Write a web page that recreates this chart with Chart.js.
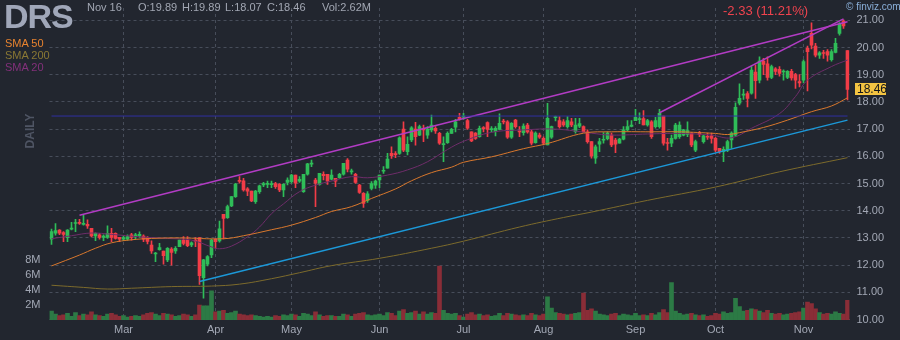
<!DOCTYPE html>
<html lang="en">

<head>
    <meta charset="UTF-8">
    <title>DRS daily</title>
    <script src="https://cdn.jsdelivr.net/npm/chart.js@4.4.0/dist/chart.umd.min.js"></script>
    <style>
        body {
            margin: 0;
            background: #22262f;
        }

        #wrap {
            position: relative;
            width: 900px;
            height: 340px;
            font-family: Arial, "Liberation Sans", sans-serif;
        }

        #wrap span {
            position: absolute;
            white-space: nowrap;
        }

        .info {
            font-size: 11px;
            line-height: 11px;
            top: 2px;
            color: #a2a7b3;
        }

        .sma {
            font-size: 11px;
            line-height: 11px;
            left: 5px;
        }
    </style>
</head>

<body>
    <div id="wrap">
        <canvas id="chart" width="900" height="340"></canvas>
        <span id="ticker" style="left:4px; top:-1px; font-size:34px; line-height:34px; font-weight:bold; letter-spacing:-1px; color:#a0a7b9">DRS</span>
        <span class="info" id="day" style="left:87px"></span>
        <span class="info" id="o" style="left:138px"></span>
        <span class="info" id="h" style="left:182px"></span>
        <span class="info" id="l" style="left:225px"></span>
        <span class="info" id="c" style="left:267px"></span>
        <span class="info" id="vol" style="left:322px"></span>
        <span id="change" style="left:723px; top:4px; font-size:13px; line-height:13px; color:#f0434e"></span>
        <span style="left:846px; top:2px; font-size:10px; line-height:10px; color:#8aafd8">&copy; finviz.com</span>
        <span class="sma" style="top:38px; color:#e8832f">SMA 50</span>
        <span class="sma" style="top:50px; color:#8a7834">SMA 200</span>
        <span class="sma" style="top:62px; color:#82307a">SMA 20</span>
        <span style="left:30px; top:131px; transform:translate(-50%, -50%) rotate(-90deg); font-size:12px; font-weight:bold; color:#4f5564">DAILY</span>
    </div>
    <script>
        // trading sessions
        const firstDay = '2023-02-02';
        const lastDay = '2023-11-16';
        const holidays = ['2023-02-20', '2023-04-07', '2023-05-29', '2023-06-19', '2023-07-04', '2023-09-04'];
        const monthNames = ['Jan', 'Feb', 'Mar', 'Apr', 'May', 'Jun', 'Jul', 'Aug', 'Sep', 'Oct', 'Nov', 'Dec'];

        const open = [
            12.95, 13.17, 13.29, 13.20, 13.01, 13.32, 13.53, 13.57, 13.50, 13.50,
            13.35, 13.07, 13.11, 13.02, 13.02, 13.17, 13.17, 13.02, 12.95, 12.95,
            13.11, 13.05, 13.07, 13.07, 13.02, 12.74, 12.41, 12.57, 12.52, 12.19,
            12.59, 12.52, 12.68, 12.92, 12.92, 12.74, 12.89, 13.01, 11.54, 12.03,
            12.37, 12.96, 12.89, 13.87, 13.74, 14.18, 14.52, 15.12, 15.10, 14.80,
            14.72, 14.33, 14.70, 14.95, 14.97, 14.96, 15.00, 14.97, 14.76, 15.04,
            15.07, 15.31, 15.09, 14.70, 15.34, 15.71, 15.13, 14.97, 15.34, 15.34,
            15.16, 15.19, 15.21, 15.34, 15.86, 15.43, 15.34, 14.94, 14.64, 14.38,
            14.82, 14.94, 15.13, 15.45, 15.56, 16.11, 16.08, 16.11, 17.00, 16.17,
            16.60, 17.00, 16.78, 17.03, 16.78, 16.97, 17.03, 16.84, 16.43, 16.50,
            16.84, 17.07, 17.43, 17.44, 17.31, 16.90, 16.85, 16.72, 17.04, 17.24,
            16.98, 16.91, 16.99, 17.28, 17.27, 16.70, 17.33, 16.92, 16.87, 17.15,
            16.90, 16.50, 16.78, 16.66, 16.42, 16.70, 17.42, 17.31, 17.27, 17.09,
            17.27, 16.91, 17.11, 17.09, 16.90, 16.54, 15.93, 16.45, 16.59, 16.65,
            16.78, 16.60, 16.48, 16.63, 16.97, 17.10, 17.31, 17.35, 17.39, 17.15,
            17.27, 17.09, 17.09, 17.48, 16.49, 16.48, 16.66, 16.72, 16.78, 16.80,
            16.85, 16.23, 16.87, 16.54, 16.73, 16.75, 16.66, 16.29, 16.17, 16.23,
            16.60, 16.78, 17.95, 18.25, 18.31, 18.32, 19.10, 18.80, 19.50, 19.40,
            18.90, 19.22, 19.20, 19.10, 18.90, 19.12, 19.00, 18.75, 18.80, 19.97,
            20.52, 20.05, 19.72, 19.80, 19.85, 19.55, 19.82, 20.52, 20.97, 19.89
        ];
        const high = [
            13.32, 13.53, 13.31, 13.23, 13.31, 13.57, 13.68, 13.68, 13.84, 13.66,
            13.35, 13.19, 13.17, 13.11, 13.44, 13.35, 13.19, 13.02, 13.07, 13.11,
            13.17, 13.17, 13.22, 13.11, 13.05, 12.89, 12.47, 12.80, 12.52, 12.64,
            12.64, 12.68, 12.92, 13.05, 13.05, 12.86, 13.01, 13.01, 12.21, 12.35,
            12.96, 12.96, 13.62, 13.87, 14.21, 14.52, 15.01, 15.25, 15.19, 14.85,
            14.72, 14.75, 14.94, 15.04, 15.09, 15.09, 15.04, 15.00, 15.00, 15.21,
            15.34, 15.31, 15.25, 15.34, 15.74, 15.86, 15.19, 15.37, 15.43, 15.34,
            15.50, 15.19, 15.37, 15.74, 15.92, 15.53, 15.37, 14.97, 14.67, 14.70,
            15.07, 15.13, 15.31, 15.62, 16.11, 16.35, 16.17, 16.72, 17.27, 16.72,
            17.09, 17.25, 17.15, 17.15, 17.09, 17.52, 17.09, 16.88, 16.72, 16.90,
            17.03, 17.36, 17.58, 17.58, 17.36, 16.90, 16.87, 17.11, 17.09, 17.27,
            17.09, 17.09, 17.56, 17.36, 17.31, 17.24, 17.36, 17.09, 17.19, 17.21,
            16.97, 16.90, 16.85, 16.72, 17.95, 17.11, 17.48, 17.46, 17.35, 17.46,
            17.40, 17.40, 17.40, 17.12, 16.97, 16.54, 16.41, 16.66, 16.87, 16.90,
            16.85, 16.66, 16.66, 17.09, 17.31, 17.31, 17.73, 17.60, 17.68, 17.36,
            17.31, 17.43, 17.73, 17.48, 16.66, 16.78, 17.21, 17.27, 16.99, 17.27,
            16.87, 16.60, 16.92, 16.78, 16.85, 16.85, 16.70, 16.29, 16.35, 16.60,
            16.90, 17.97, 18.66, 18.46, 18.38, 19.30, 19.35, 19.66, 19.60, 19.66,
            19.35, 19.26, 19.30, 19.18, 19.15, 19.20, 19.05, 19.00, 19.55, 20.05,
            20.91, 20.15, 19.85, 19.90, 19.92, 19.92, 20.34, 20.92, 21.02, 19.89
        ];
        const low = [
            12.76, 13.10, 13.12, 12.86, 12.86, 13.29, 13.23, 13.50, 13.47, 13.35,
            13.04, 12.90, 12.95, 12.90, 12.98, 12.86, 12.95, 12.86, 12.90, 12.92,
            12.92, 12.95, 13.02, 12.86, 12.78, 12.43, 12.13, 12.55, 12.03, 12.13,
            12.00, 12.43, 12.68, 12.74, 12.68, 12.68, 12.68, 11.29, 10.78, 11.97,
            12.27, 12.62, 12.84, 12.96, 13.72, 14.15, 14.49, 15.01, 14.72, 14.55,
            14.33, 14.27, 14.64, 14.88, 14.85, 14.85, 14.82, 14.70, 14.52, 14.95,
            15.01, 14.85, 15.04, 14.67, 15.31, 15.62, 14.15, 14.94, 15.13, 14.97,
            15.13, 14.88, 15.19, 15.31, 15.43, 15.34, 15.00, 14.64, 14.12, 14.30,
            14.76, 14.82, 14.85, 15.37, 15.56, 15.92, 15.95, 16.07, 16.17, 16.05,
            16.54, 16.41, 16.76, 16.54, 16.66, 16.90, 16.84, 16.44, 15.80, 16.47,
            16.84, 16.90, 17.33, 17.36, 16.99, 16.54, 16.62, 16.70, 16.90, 16.72,
            16.90, 16.75, 16.97, 17.19, 16.66, 16.66, 17.03, 16.72, 16.78, 16.85,
            16.42, 16.48, 16.66, 16.42, 16.42, 16.66, 17.30, 17.03, 17.10, 17.03,
            17.09, 16.85, 17.05, 16.88, 16.48, 15.93, 15.74, 16.17, 16.48, 16.60,
            16.35, 16.13, 16.48, 16.60, 16.94, 17.08, 17.31, 17.20, 17.15, 17.11,
            16.66, 17.03, 17.03, 16.41, 16.23, 16.35, 16.63, 16.66, 16.75, 16.72,
            16.35, 16.17, 16.72, 16.48, 16.62, 16.48, 16.17, 16.11, 15.80, 16.17,
            16.29, 16.72, 17.89, 18.09, 17.82, 18.28, 18.13, 18.70, 19.00, 18.80,
            18.85, 19.00, 18.95, 18.80, 18.85, 18.80, 18.50, 18.55, 18.70, 18.40,
            19.95, 19.65, 19.60, 19.60, 19.50, 19.50, 19.80, 20.45, 20.70, 18.07
        ];
        const close = [
            13.23, 13.27, 13.17, 13.13, 13.29, 13.34, 13.54, 13.53, 13.53, 13.44,
            13.07, 13.17, 13.02, 13.07, 13.17, 13.02, 12.98, 12.95, 13.01, 13.05,
            13.02, 13.11, 13.13, 12.95, 12.87, 12.52, 12.43, 12.64, 12.35, 12.62,
            12.47, 12.62, 12.92, 12.80, 12.71, 12.82, 12.88, 11.61, 12.19, 12.31,
            12.92, 12.86, 13.33, 13.72, 14.15, 14.52, 14.98, 15.08, 14.76, 14.72,
            14.36, 14.72, 14.91, 15.00, 14.99, 14.98, 14.88, 14.76, 14.97, 15.13,
            15.31, 15.01, 15.15, 15.34, 15.72, 15.72, 15.01, 15.37, 15.29, 15.09,
            15.31, 15.09, 15.34, 15.74, 15.53, 15.45, 15.04, 14.67, 14.27, 14.62,
            15.00, 15.09, 15.31, 15.46, 15.90, 16.02, 16.06, 16.68, 16.23, 16.44,
            17.05, 16.72, 17.09, 16.97, 17.00, 17.15, 16.93, 16.48, 16.47, 16.84,
            16.99, 17.27, 17.36, 17.46, 17.03, 16.57, 16.66, 17.03, 17.02, 16.99,
            17.00, 17.03, 17.21, 17.26, 16.70, 17.21, 17.09, 16.90, 17.11, 16.90,
            16.48, 16.85, 16.70, 16.48, 17.40, 17.09, 17.44, 17.09, 17.15, 17.31,
            17.15, 17.15, 17.20, 16.90, 16.54, 16.01, 16.35, 16.54, 16.61, 16.85,
            16.42, 16.45, 16.63, 16.97, 17.09, 17.15, 17.43, 17.37, 17.15, 17.31,
            16.72, 17.31, 17.58, 16.48, 16.47, 16.66, 17.15, 17.15, 16.97, 16.95,
            16.42, 16.54, 16.80, 16.75, 16.70, 16.66, 16.23, 16.17, 16.26, 16.54,
            16.85, 17.80, 18.13, 18.27, 18.13, 19.17, 18.78, 19.50, 19.38, 18.90,
            19.30, 19.12, 19.05, 19.12, 19.12, 18.88, 18.80, 18.70, 19.48, 19.85,
            20.09, 19.72, 19.80, 19.78, 19.72, 19.85, 20.15, 20.86, 20.79, 18.46
        ];
        // millions of shares
        const volume = [
            1.2, 0.8, 0.6, 0.7, 0.9, 0.5, 1.0, 0.6, 0.8, 0.7,
            1.1, 0.7, 0.6, 0.5, 0.8, 0.9, 0.7, 0.5, 0.6, 0.4,
            0.5, 0.6, 0.5, 0.7, 0.9, 1.0, 0.8, 0.6, 0.9, 0.8,
            0.7, 0.5, 0.6, 0.8, 0.7, 0.5, 0.7, 2.0, 1.9, 1.9,
            3.9, 1.1, 1.2, 1.3, 0.9, 1.0, 1.2, 0.8, 0.7, 0.6,
            0.7, 0.6, 0.5, 0.4, 0.5, 0.4, 0.6, 0.5, 0.7, 0.6,
            0.8, 0.7, 0.5, 0.9, 0.8, 0.6, 1.1, 0.7, 0.5, 0.6,
            0.6, 0.5, 0.5, 0.8, 0.7, 0.5, 0.8, 0.9, 1.0, 0.7,
            0.6, 0.7, 0.8, 0.6, 1.0, 0.9, 0.6, 1.2, 1.4, 0.9,
            1.0, 1.2, 0.8, 1.1, 0.8, 1.0, 0.9, 7.2, 1.3, 0.9,
            0.8, 0.9, 0.6, 0.4, 0.8, 1.0, 0.7, 0.8, 0.6, 0.7,
            0.5, 0.6, 0.9, 0.6, 0.9, 0.8, 0.7, 0.6, 0.7, 0.6,
            0.9, 0.7, 0.6, 0.8, 3.1, 1.6, 1.0, 0.9, 0.8, 0.7,
            0.8, 0.9, 1.0, 3.6, 1.3, 1.5, 1.2, 0.8, 0.7, 0.6,
            0.8, 0.9, 0.6, 0.8, 0.7, 0.6, 0.9, 0.6, 0.7, 0.6,
            0.9, 0.7, 1.0, 1.4, 1.0, 5.0, 1.2, 0.9, 0.7, 0.8,
            0.9, 0.7, 0.6, 0.7, 0.5, 0.6, 0.9, 0.8, 1.1, 0.9,
            1.0, 2.9, 1.8, 1.2, 1.3, 1.5, 1.4, 1.2, 1.0, 1.3,
            0.9, 0.8, 0.9, 0.7, 0.8, 0.9, 1.0, 1.1, 1.6, 2.4,
            2.2, 1.5, 1.0, 0.8, 0.9, 0.8, 1.1, 0.9, 0.8, 2.62
        ];

        // moving averages, [session index, price]
        const sma20 = [
            [0, 12.97], [5, 13.08], [10, 13.18], [15, 13.13], [22, 13.04], [29, 12.98], [35, 12.92],
            [40, 12.67], [42, 12.60], [45, 12.70], [49, 13.04], [52, 13.40], [55, 13.89], [58, 14.25],
            [62, 14.70], [66, 14.94], [70, 15.09], [75, 15.25], [79, 15.21], [84, 15.31], [89, 15.50],
            [94, 15.80], [99, 16.25], [103, 16.55], [110, 16.88], [118, 16.97], [126, 17.00], [135, 16.85],
            [140, 16.78], [149, 16.82], [157, 16.84], [165, 16.78], [170, 16.68], [175, 17.03], [182, 17.57],
            [186, 18.20], [189, 18.80], [195, 19.30], [199, 19.54]
        ];
        const sma50 = [
            [0, 11.97], [7, 12.37], [11, 12.62], [15, 12.82], [20, 12.93], [25, 12.98], [32, 13.00],
            [43, 12.97], [48, 13.08], [55, 13.30], [60, 13.47], [66, 13.75], [70, 13.97], [75, 14.15],
            [80, 14.45], [86, 14.80], [90, 15.10], [95, 15.40], [100, 15.60], [103, 15.78], [110, 15.98],
            [118, 16.28], [124, 16.47], [133, 16.85], [140, 16.90], [150, 16.90], [157, 16.90], [166, 16.84],
            [169, 16.80], [172, 16.87], [178, 17.06], [184, 17.33], [190, 17.64], [195, 17.85], [199, 18.15]
        ];
        const sma200 = [
            [0, 11.26], [8, 11.18], [14, 11.12], [20, 11.15], [30, 11.21], [40, 11.23], [47, 11.30],
            [55, 11.50], [62, 11.72], [70, 11.98], [82, 12.25], [95, 12.62], [103, 12.88], [117, 13.40],
            [128, 13.75], [135, 13.95], [149, 14.38], [166, 14.87], [182, 15.43], [199, 15.95]
        ];

        // drawn trendlines
        const channelTop = [[7, 13.83], [199, 20.95]];
        const steepTop = [[152, 17.60], [198, 21.05]];
        const supportLine = [[37, 11.40], [199, 17.33]];
        const resistance = [[0, 17.48], [199, 17.48]];

        const priceTicks = [10, 11, 12, 13, 14, 15, 16, 17, 18, 19, 20, 21];
        const volumeTicks = [2, 4, 6, 8];

        const days = [];
        for (let t = Date.parse(firstDay); t <= Date.parse(lastDay); t += 864e5) {
            const d = new Date(t);
            const iso = d.toISOString().slice(0, 10);
            const wd = d.getUTCDay();
            if (wd === 0 || wd === 6 || holidays.includes(iso)) continue;
            days.push(iso);
        }
        const monthOf = i => +days[i].slice(5, 7) - 1;
        const monthStarts = days.map((d, i) => i).filter(i => i > 0 && monthOf(i) !== monthOf(i - 1));

        const up = close.map((c, i) => c >= open[i]);
        const candleColor = up.map(u => u ? '#2fbd58' : '#f23c47');
        const volumeColor = up.map(u => u ? '#2c7a45' : '#8a2d37');
        const pts = arr => arr.map(([i, v]) => ({ x: days[i], y: v }));

        // header
        const last = close.length - 1;
        const lastDate = days[last];
        document.getElementById('day').textContent = monthNames[monthOf(last)] + ' ' + (+lastDate.slice(8));
        document.getElementById('o').textContent = 'O:' + open[last].toFixed(2);
        document.getElementById('h').textContent = 'H:' + high[last].toFixed(2);
        document.getElementById('l').textContent = 'L:' + low[last].toFixed(2);
        document.getElementById('c').textContent = 'C:' + close[last].toFixed(2);
        document.getElementById('vol').textContent = 'Vol:' + volume[last].toFixed(2) + 'M';
        const chg = close[last] - close[last - 1];
        document.getElementById('change').textContent =
            chg.toFixed(2) + ' (' + Math.abs(chg / close[last - 1] * 100).toFixed(2) + '%)';

        const lastPriceTag = {
            id: 'lastPriceTag',
            afterDraw(chart) {
                const { ctx } = chart;
                const py = Math.round(chart.scales.y.getPixelForValue(close[last]));
                ctx.save();
                ctx.fillStyle = '#f4c442';
                ctx.fillRect(855, py - 6, 31, 12);
                ctx.fillStyle = '#14161b';
                ctx.font = '12px Arial, "Liberation Sans", sans-serif';
                ctx.textBaseline = 'middle';
                ctx.fillText(close[last].toFixed(2), 857, py + 1);
                ctx.restore();
            }
        };

        Chart.defaults.font.family = 'Arial, "Liberation Sans", sans-serif';
        const tickColor = '#a3a8b5';
        const gridColor = '#474d5a';

        const lineSet = (label, arr, color, width, order, tension) => ({
            type: 'line',
            label: label,
            data: pts(arr),
            borderColor: color,
            borderWidth: width,
            pointRadius: 0,
            tension: tension,
            yAxisID: 'y',
            order: order
        });

        // keep the plot box fixed: no extra room for the end labels
        const noPad = s => {
            s.paddingTop = 0;
            s.paddingBottom = 0;
        };

        new Chart(document.getElementById('chart'), {
            type: 'bar',
            data: {
                labels: days,
                datasets: [
                    {
                        label: 'Volume',
                        data: volume,
                        backgroundColor: volumeColor,
                        yAxisID: 'y2',
                        grouped: false,
                        barPercentage: 1,
                        categoryPercentage: 1,
                        order: 10
                    },
                    {
                        label: 'Range',
                        data: low.map((l, i) => [l, high[i]]),
                        backgroundColor: candleColor,
                        yAxisID: 'y',
                        grouped: false,
                        barThickness: 1,
                        order: 6
                    },
                    {
                        label: 'Body',
                        data: open.map((o, i) => [o, close[i]]),
                        backgroundColor: candleColor,
                        yAxisID: 'y',
                        grouped: false,
                        barThickness: 3,
                        minBarLength: 1,
                        order: 5
                    },
                    lineSet('SMA 200', sma200, '#7d6b2c', 1, 4, 0.4),
                    lineSet('SMA 50', sma50, '#d9782d', 1, 3, 0.4),
                    lineSet('SMA 20', sma20, '#6f2d6a', 1, 3, 0.4),
                    lineSet('Resistance', resistance, '#3030a0', 1, 2, 0),
                    lineSet('Support', supportLine, '#1c98d8', 1.5, 2, 0),
                    lineSet('Channel', channelTop, '#b23cc4', 1.5, 2, 0),
                    lineSet('Steep', steepTop, '#b23cc4', 1.5, 2, 0)
                ]
            },
            options: {
                responsive: false,
                animation: false,
                devicePixelRatio: 1,
                layout: { padding: { top: 8 } },
                plugins: {
                    legend: { display: false },
                    tooltip: { enabled: false }
                },
                scales: {
                    x: {
                        type: 'category',
                        offset: true,
                        grid: { offset: false, color: gridColor, drawTicks: false },
                        border: { display: false, dash: [3, 3] },
                        ticks: {
                            autoSkip: false,
                            maxRotation: 0,
                            padding: 3,
                            color: tickColor,
                            font: { size: 11 },
                            callback: v => monthNames[monthOf(v)]
                        },
                        afterBuildTicks: s => { s.ticks = monthStarts.map(i => ({ value: i })); },
                        afterFit: s => {
                            s.height = 20;
                            s.paddingLeft = 0;
                            s.paddingRight = 0;
                        }
                    },
                    y: {
                        position: 'right',
                        min: 9.982,
                        max: 21.452,
                        grid: { color: gridColor, drawTicks: false },
                        border: { display: false, dash: [3, 3] },
                        ticks: {
                            padding: 7,
                            color: tickColor,
                            font: { size: 11 },
                            callback: v => v.toFixed(2)
                        },
                        afterBuildTicks: s => { s.ticks = priceTicks.map(v => ({ value: v })); },
                        afterFit: s => {
                            s.width = 50.5;
                            noPad(s);
                        }
                    },
                    y2: {
                        position: 'left',
                        min: 0,
                        max: 41.6,
                        grid: { display: false, drawTicks: false },
                        border: { display: false },
                        ticks: {
                            padding: 9,
                            color: tickColor,
                            font: { size: 11 },
                            callback: v => v + 'M'
                        },
                        afterBuildTicks: s => { s.ticks = volumeTicks.map(v => ({ value: v })); },
                        afterFit: s => {
                            s.width = 49.5;
                            noPad(s);
                        }
                    }
                }
            },
            plugins: [lastPriceTag]
        });
    </script>
</body>

</html>
